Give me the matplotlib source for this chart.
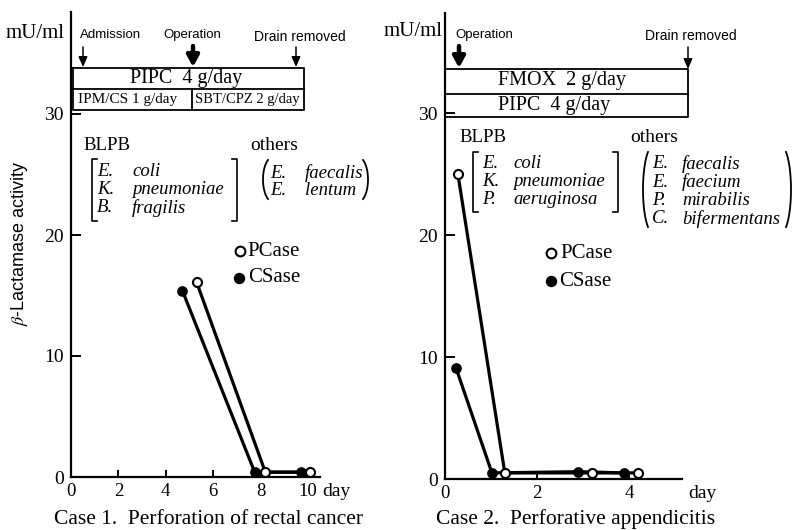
import matplotlib
matplotlib.use('Agg')
import numpy as np
import matplotlib.pyplot as plt
from matplotlib.lines import Line2D
from matplotlib.patches import FancyArrowPatch

# ---------------- data ----------------
case1_pcase_day = [5.3, 8.2, 10.1]
case1_pcase_val = [16.1, 0.4, 0.4]
case1_csase_day = [4.7, 7.75, 9.7]
case1_csase_val = [15.4, 0.4, 0.4]

case2_pcase_day = [0.28, 1.3, 3.2, 4.2]
case2_pcase_val = [25.0, 0.5, 0.5, 0.5]
case2_csase_day = [0.24, 1.02, 2.9, 3.9]
case2_csase_val = [9.1, 0.5, 0.6, 0.5]

y_ticks = [0, 10, 20, 30]
case1_x_ticks = [0, 2, 4, 6, 8, 10]
case2_x_ticks = [0, 2, 4]

case1_blpb = [("E.", "coli"), ("K.", "pneumoniae"), ("B.", "fragilis")]
case1_others = [("E.", "faecalis"), ("E.", "lentum")]
case2_blpb = [("E.", "coli"), ("K.", "pneumoniae"), ("P.", "aeruginosa")]
case2_others = [("E.", "faecalis"), ("E.", "faecium"), ("P.", "mirabilis"), ("C.", "bifermentans")]

# ---------------- figure ----------------
W, H = 793, 530
fig = plt.figure(figsize=(W / 100, H / 100), dpi=100)
plt.rcParams['mathtext.fontset'] = 'stix'

SERIF = ['Liberation Serif', 'DejaVu Serif']
NARROW = ['Liberation Sans', 'DejaVu Sans']
SANS = ['Liberation Sans', 'DejaVu Sans']


def fx(px):
    return px / W


def fy(py):
    return 1 - py / H


def T(px, py, s, size=13, family=SERIF, ha='left', va='center', style='normal', **kw):
    fig.text(fx(px), fy(py), s, fontsize=size, family=family, ha=ha, va=va,
             style=style, **kw)


def L(xs, ys, lw=1.3, **kw):
    fig.add_artist(Line2D([fx(x) for x in xs], [fy(y) for y in ys],
                          transform=fig.transFigure, color='black', lw=lw,
                          solid_capstyle='projecting', **kw))


def arrow(px, py0, py1, heavy=False):
    if heavy:
        st = '-|>,head_length=0.55,head_width=0.3'
        lw, ms = 3.2, 12
    else:
        st = '-|>,head_length=0.5,head_width=0.22'
        lw, ms = 1.1, 12
    fig.add_artist(FancyArrowPatch((fx(px), fy(py0)), (fx(px), fy(py1)),
                                   transform=fig.transFigure, arrowstyle=st,
                                   mutation_scale=ms, lw=lw, color='black',
                                   shrinkA=0, shrinkB=0))


def paren(px, py_top, py_bot, side='left'):
    h = py_bot - py_top
    rx = 10
    ry = h / 2 / np.sin(np.radians(60))
    cy = (py_top + py_bot) / 2
    if side == 'left':
        cx = px + rx
        t = np.radians(np.linspace(120, 240, 40))
    else:
        cx = px - rx
        t = np.radians(np.linspace(-60, 60, 40))
    xs = cx + rx * np.cos(t)
    ys = cy - ry * np.sin(t)
    fig.add_artist(Line2D(xs / W, 1 - ys / H, transform=fig.transFigure,
                          color='black', lw=1.3))


def bracket(px, py_top, py_bot, side='left'):
    d = 5 if side == 'left' else -5
    L([px + d, px, px, px + d], [py_top, py_top, py_bot, py_bot], lw=1.2)


def setup_axes(ax, xlim, ylim, xticks):
    ax.set_xlim(*xlim)
    ax.set_ylim(*ylim)
    for s in ['top', 'right']:
        ax.spines[s].set_visible(False)
    for s in ['left', 'bottom']:
        ax.spines[s].set_linewidth(1.6)
    ax.set_yticks(y_ticks)
    ax.set_yticklabels([str(v) for v in y_ticks], family=SERIF, fontsize=14)
    ax.set_xticks(xticks)
    ax.set_xticklabels([str(v) for v in xticks], family=SERIF, fontsize=13.5)
    ax.tick_params(axis='y', direction='in', length=7, width=1.4, pad=5)
    ax.tick_params(axis='x', direction='in', length=5, width=1.4, pad=4)
    ax.patch.set_visible(False)


def plot_series(ax, cs_d, cs_v, pc_d, pc_v):
    ax.plot(cs_d, cs_v, color='black', lw=2.3, marker='o', ms=6.5,
            mfc='black', mec='black', mew=1.2, clip_on=False, zorder=3)
    ax.plot(pc_d, pc_v, color='black', lw=2.3, marker='o', ms=6.5,
            mfc='white', mec='black', mew=1.5, clip_on=False, zorder=4)


# ---------------- left panel ----------------
axL = fig.add_axes([fx(71), fy(477), (320 - 71) / W, (477 - 12) / H])
setup_axes(axL, (0, (320 - 71) / 23.7), (0, (477 - 12) / 12.1), case1_x_ticks)
plot_series(axL, case1_csase_day, case1_csase_val, case1_pcase_day, case1_pcase_val)

T(65, 33, 'mU/ml', size=15, ha='right')
T(322, 492, 'day', size=14)
T(208, 519, 'Case 1.  Perforation of rectal cancer', size=15.5, ha='center')
fig.text(fx(20), fy(243), r'$\beta$-Lactamase activity', rotation=90,
         fontsize=13, family=SANS, ha='center', va='center')

# event labels and arrows
T(80, 35, 'Admission', size=9.5, family=NARROW)
T(192, 35, 'Operation', size=9.5, family=NARROW, ha='center')
T(300, 37, 'Drain removed', size=10, family=NARROW, ha='center')
arrow(83, 47, 67)
arrow(193, 46, 67, heavy=True)
arrow(296, 47, 67)

# drug boxes
L([73, 304, 304, 73, 73], [68, 68, 110, 110, 68])
L([73, 304], [89, 89])
L([192, 192], [89, 110])
T(186, 79, 'PIPC  4 g/day', size=14.5, ha='center')
T(128, 100, 'IPM/CS 1 g/day', size=11, ha='center')
T(247, 100, 'SBT/CPZ 2 g/day', size=10.5, ha='center')

# bacteria
T(83, 146, 'BLPB', size=13.5)
T(250, 146, 'others', size=14)
for i, (g, sp) in enumerate(case1_blpb):
    y = 172 + 18 * i
    T(97, y, g, size=13.5, style='italic')
    T(132, y, sp, size=13.5, style='italic')
bracket(92, 159, 221, 'left')
bracket(237, 159, 221, 'right')
for i, (g, sp) in enumerate(case1_others):
    y = 173 + 17.5 * i
    T(270, y, g, size=13.5, style='italic')
    T(305, y, sp, size=13.5, style='italic')
paren(263, 160, 199, 'left')
paren(368, 160, 199, 'right')

# legend
fig.add_artist(Line2D([fx(240)], [fy(251)], marker='o', ms=7, mfc='white',
                      mec='black', mew=1.5, transform=fig.transFigure))
fig.add_artist(Line2D([fx(239)], [fy(278)], marker='o', ms=7, mfc='black',
                      mec='black', mew=1.2, transform=fig.transFigure))
T(247, 251, 'PCase', size=15)
T(248, 278, 'CSase', size=15)

# ---------------- right panel ----------------
axR = fig.add_axes([fx(445), fy(479), (682 - 445) / W, (479 - 13) / H])
setup_axes(axR, (0, (682 - 445) / 46.0), (0, (479 - 13) / 12.2), case2_x_ticks)
plot_series(axR, case2_csase_day, case2_csase_val, case2_pcase_day, case2_pcase_val)

T(443, 32, 'mU/ml', size=15, ha='right')
T(688, 493, 'day', size=14)
T(576, 519, 'Case 2.  Perforative appendicitis', size=15.5, ha='center')

T(455, 35, 'Operation', size=9.5, family=NARROW)
T(691, 36, 'Drain removed', size=10, family=NARROW, ha='center')
arrow(459, 46, 68, heavy=True)
arrow(688, 47, 69)

L([445, 688, 688, 445], [69, 69, 117, 117])
L([445, 688], [94, 94])
T(498, 81, 'FMOX  2 g/day', size=14.5)
T(498, 105, 'PIPC  4 g/day', size=14.5)

T(459, 138, 'BLPB', size=13.5)
T(630, 138, 'others', size=14)
for i, (g, sp) in enumerate(case2_blpb):
    y = 164 + 18 * i
    T(482, y, g, size=13.5, style='italic')
    T(513, y, sp, size=13.5, style='italic')
bracket(473, 152, 212, 'left')
bracket(618, 152, 212, 'right')
for i, (g, sp) in enumerate(case2_others):
    y = 164 + 18.3 * i
    T(652, y, g, size=13.5, style='italic')
    T(682, y, sp, size=13.5, style='italic')
paren(643, 152, 227, 'left')
paren(791, 152, 227, 'right')

fig.add_artist(Line2D([fx(551)], [fy(253)], marker='o', ms=7, mfc='white',
                      mec='black', mew=1.5, transform=fig.transFigure))
fig.add_artist(Line2D([fx(551)], [fy(281)], marker='o', ms=7, mfc='black',
                      mec='black', mew=1.2, transform=fig.transFigure))
T(560, 253, 'PCase', size=15)
T(559, 281, 'CSase', size=15)

fig.savefig('out.png', dpi=100)
